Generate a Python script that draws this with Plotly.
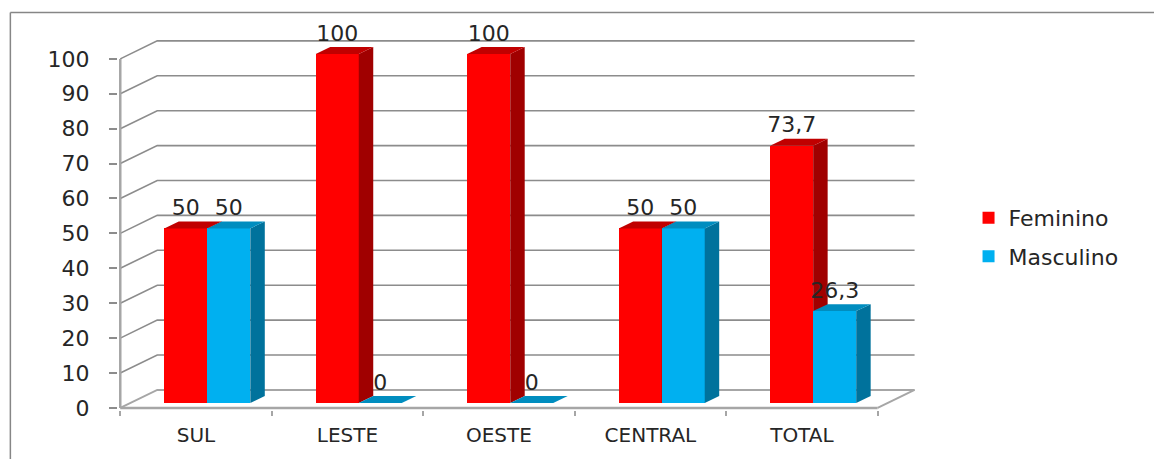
import plotly.graph_objects as go

categories = ["SUL", "LESTE", "OESTE", "CENTRAL", "TOTAL"]
feminino = [50, 100, 100, 50, 73.7]
masculino = [50, 0, 0, 50, 26.3]
y_ticks = list(range(0, 101, 10))

RED, RED_SIDE, RED_TOP = "#ff0000", "#a00000", "#c00000"
BLUE, BLUE_SIDE, BLUE_TOP = "#00b0f0", "#00729c", "#008dbf"
GRID = "#8c8c8c"
AXIS = "#a6a6a6"
TEXT = "#262626"
FONT = "DejaVu Sans"

# the page body adds 8 px on the top and left
PAGE = 8
W, H = 1162 - PAGE, 459 - PAGE
X0_PX, Y0_PX = 120 - PAGE, 408 - PAGE
SX, SY = 151.6, 3.49
X_RANGE = [-0.015, 5.26]
Y_RANGE = [-0.6, 112]
L = X0_PX + X_RANGE[0] * SX
R_PX = X0_PX + X_RANGE[1] * SX
T = Y0_PX - Y_RANGE[1] * SY
B_PX = Y0_PX - Y_RANGE[0] * SY
paper_x = lambda px: (px - PAGE - L) / (R_PX - L)
paper_y = lambda px: (B_PX - (px - PAGE)) / (B_PX - T)

# 3D projection constants, in axis units
WALL_DX, WALL_DY = 0.244, 5.16
BAR_W = 0.284
BAR_SHIFT = 0.0745
BAR_LIFT = 1.43
DEPTH_DX, DEPTH_DY = 0.0956, 2.0
LABEL_UP = 5.4

fig = go.Figure()
xs = [i + 0.5 + BAR_SHIFT for i in range(len(categories))]


def poly(xv, yv, color, xa, ya):
    fig.add_trace(go.Scatter(x=xv, y=yv, mode="lines", fill="toself", fillcolor=color,
                             line=dict(width=0, color=color), showlegend=False,
                             hoverinfo="skip", xaxis=xa, yaxis=ya))


def line(xv, yv, color, width):
    fig.add_trace(go.Scatter(x=xv, y=yv, mode="lines", line=dict(color=color, width=width),
                             showlegend=False, hoverinfo="skip", xaxis="x", yaxis="y"))


# walls and floor
for t in y_ticks:
    wall_y = t + WALL_DY
    color, width = (AXIS, 2) if t == 0 else (GRID, 1.6)
    line([0, WALL_DX, 5 + WALL_DX], [t, wall_y, wall_y], color, width)
line([5, 5 + WALL_DX], [0, WALL_DY], AXIS, 2)
line([0, 5], [0, 0], AXIS, 2.5)
line([0, 0], [0, y_ticks[-1]], AXIS, 2.5)


def series(name, values, left, front, side, top, xa, ya):
    x0s = [x - BAR_W if left else x for x in xs]
    fig.add_trace(go.Bar(x=[x + BAR_W / 2 for x in x0s], y=values, base=BAR_LIFT, width=BAR_W,
                         name=name, marker=dict(color=front, line=dict(width=0)),
                         legendgroup=name, xaxis=xa, yaxis=ya))
    for x0, v in zip(x0s, values):
        x1 = x0 + BAR_W
        y0, y1 = BAR_LIFT, BAR_LIFT + v
        poly([x1, x1 + DEPTH_DX, x1 + DEPTH_DX, x1, x1],
             [y0, y0 + DEPTH_DY, y1 + DEPTH_DY, y1, y0], side, xa, ya)
        poly([x0, x0 + DEPTH_DX, x1 + DEPTH_DX, x1, x0],
             [y1, y1 + DEPTH_DY, y1 + DEPTH_DY, y1, y1], top, xa, ya)


series("Feminino", feminino, True, RED, RED_SIDE, RED_TOP, "x2", "y2")
series("Masculino", masculino, False, BLUE, BLUE_SIDE, BLUE_TOP, "x3", "y3")

label = lambda v: f"{v:g}".replace(".", ",")
fig.add_trace(go.Scatter(
    x=[x - BAR_W / 2 for x in xs] + [x + BAR_W / 2 for x in xs],
    y=[v + BAR_LIFT + LABEL_UP for v in feminino + masculino],
    text=[label(v) for v in feminino + masculino],
    mode="text", textposition="middle center",
    textfont=dict(family=FONT, size=22, color=TEXT),
    showlegend=False, hoverinfo="skip", xaxis="x3", yaxis="y3"))

hidden_x = dict(range=X_RANGE, overlaying="x", visible=False, fixedrange=True)
hidden_y = dict(range=Y_RANGE, overlaying="y", visible=False, fixedrange=True)

fig.update_layout(
    width=W, height=H, autosize=False,
    margin=dict(l=L, r=W - R_PX, t=T, b=H - B_PX, pad=0),
    paper_bgcolor="white", plot_bgcolor="rgba(0,0,0,0)",
    barmode="overlay", bargap=0,
    font=dict(family=FONT, color=TEXT),
    xaxis=dict(range=X_RANGE, tickmode="array",
               tickvals=[i + 0.5 for i in range(len(categories))], ticktext=categories,
               ticks="", ticklabelstandoff=11, showgrid=False, zeroline=False,
               showline=False,
               tickfont=dict(family=FONT, size=20, color=TEXT),
               minor=dict(tickmode="array", tickvals=list(range(len(categories) + 1)),
                          ticks="outside", ticklen=5, tickwidth=1.5, tickcolor=AXIS,
                          showgrid=False)),
    yaxis=dict(range=Y_RANGE, tickmode="array", tickvals=y_ticks,
               ticks="outside", ticklen=8, tickwidth=1.5, tickcolor=GRID,
               ticklabelstandoff=15, showgrid=False, zeroline=False,
               showline=False,
               tickfont=dict(family=FONT, size=22, color=TEXT)),
    xaxis2=hidden_x, yaxis2=hidden_y, xaxis3=hidden_x, yaxis3=hidden_y,
    legend=dict(x=paper_x(969), xanchor="left",
                y=paper_y(197), yanchor="top",
                traceorder="grouped", tracegroupgap=7,
                font=dict(family=FONT, size=22, color=TEXT),
                bgcolor="rgba(0,0,0,0)"),
    shapes=[
        dict(type="line", xref="paper", yref="paper",
             x0=paper_x(10), x1=paper_x(10), y0=paper_y(12.5), y1=paper_y(459),
             line=dict(color="#868686", width=1.5)),
        dict(type="line", xref="paper", yref="paper",
             x0=paper_x(10), x1=paper_x(1162), y0=paper_y(12.5), y1=paper_y(12.5),
             line=dict(color="#868686", width=1.5)),
    ],
)

fig.write_html("out.html")
